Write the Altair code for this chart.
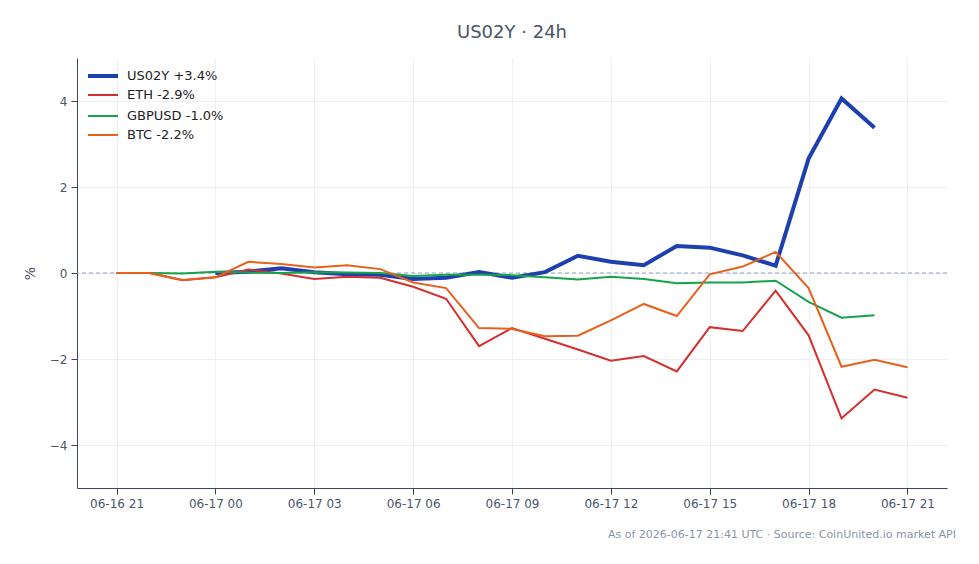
import altair as alt
import pandas as pd

# Hourly timeline (UTC)
hours = pd.date_range("2026-06-16 21:00", "2026-06-17 21:00", freq="h", tz="UTC")

# % change vs. start of window; None where a series has no print
us02y = [None, None, None,
         0.0, 0.03, 0.11, 0.02, -0.03, -0.04, -0.14, -0.11, 0.02, -0.11, 0.02,
         0.40, 0.26, 0.18, 0.63, 0.59, 0.41, 0.17, 2.66, 4.06, 3.38, None]
eth = [0.0, 0.0, -0.17, -0.10, 0.08, -0.01, -0.14, -0.09, -0.11, -0.32, -0.60,
       -1.70, -1.28, -1.53, -1.78, -2.04, -1.93, -2.29, -1.26, -1.35, -0.41,
       -1.45, -3.38, -2.71, -2.90]
gbpusd = [0.0, 0.0, -0.01, 0.03, 0.01, 0.0, 0.02, 0.01, 0.0, -0.07, -0.04,
          -0.04, -0.05, -0.10, -0.15, -0.09, -0.14, -0.24, -0.22, -0.22, -0.18,
          -0.67, -1.04, -0.98, None]
btc = [0.0, 0.0, -0.16, -0.10, 0.26, 0.21, 0.13, 0.18, 0.09, -0.22, -0.35,
       -1.28, -1.30, -1.47, -1.46, -1.10, -0.72, -1.00, -0.03, 0.15, 0.49,
       -0.35, -2.18, -2.02, -2.19]

names = ["US02Y", "ETH", "GBPUSD", "BTC"]
series = [us02y, eth, gbpusd, btc]
colors = ["#1e40af", "#d62f2f", "#16a34a", "#e8601c"]
widths = [4, 2, 2, 2]


def ms(s):
    return int(pd.Timestamp(s, tz="UTC").value // 10**6)


tick_vals = [ms(t) for t in pd.date_range("2026-06-16 21:00", "2026-06-17 21:00", freq="3h")]
x_domain = [ms("2026-06-16 19:48"), ms("2026-06-17 22:12")]

font = "DejaVu Sans"
text_col = "#4a5568"
axis_col = "#3b4656"
grid_col = "#eceff3"

x = alt.X(
    "t:T",
    scale=alt.Scale(type="utc", domain=x_domain, nice=False),
    axis=alt.Axis(values=tick_vals, labelExpr="utcFormat(datum.value, '%m-%d %H')", title=None,
                  grid=True, gridColor=grid_col, domainColor=axis_col, tickColor=axis_col,
                  tickSize=6, labelPadding=4, labelFontSize=12, labelColor=text_col,
                  labelFont=font),
)
y_scale = alt.Scale(domain=[-5, 5], nice=False, zero=False)
y = alt.Y("pct:Q", scale=y_scale,
          axis=alt.Axis(values=[-4, -2, 0, 2, 4], title="%", titleFontSize=14,
                        titleFontWeight="normal", titleColor=text_col, titleFont=font,
                        titlePadding=12, grid=True, gridColor=grid_col,
                        domainColor=axis_col, tickColor=axis_col, tickSize=6,
                        labelPadding=4, labelFontSize=12, labelColor=text_col,
                        labelFont=font))

# one line layer per series, each carrying its own legend entry
legend_y = [1, 21, 42, 61]
line_layers = []
for i, (name, vals) in enumerate(zip(names, series)):
    last = [v for v in vals if v is not None][-1]
    label = f"{name} {last:+.1f}%"
    df = pd.DataFrame([{"t": int(t.value // 10**6), "pct": v, "series": label}
                       for t, v in zip(hours, vals) if v is not None])
    thick = widths[i] > 2
    leg = alt.Legend(title=None, orient="none", legendX=9 if thick else 10,
                     legendY=legend_y[i], symbolType="stroke", symbolSize=900,
                     symbolStrokeWidth=widths[i], labelFontSize=13, labelFont=font,
                     labelColor="#222222", labelOffset=7 if thick else 8)
    line_layers.append(
        alt.Chart(df).mark_line(strokeWidth=widths[i], strokeJoin="miter").encode(
            x=x, y=y,
            color=alt.Color("series:N", scale=alt.Scale(domain=[label], range=[colors[i]]),
                            legend=leg),
            order=alt.Order("t:Q"),
        )
    )

zero = pd.DataFrame({"pct": [0.0]})
zero_rule = alt.Chart(zero).mark_rule(color="#8fa0bf", strokeDash=[4, 3], strokeWidth=1).encode(
    y=alt.Y("pct:Q", scale=y_scale)
)

footer = alt.Chart(pd.DataFrame({"txt": ["As of 2026-06-17 21:41 UTC · Source: CoinUnited.io market API"]})).mark_text(
    align="right", baseline="middle", fontSize=11, font=font, color="#8a94a6"
).encode(x=alt.value(879), y=alt.value(477), text="txt:N")

chart = alt.layer(zero_rule, *line_layers, footer).resolve_scale(
    color="independent"
).properties(
    width=870, height=430,
    title=alt.TitleParams("US02Y · 24h", fontSize=18, font=font, fontWeight="normal",
                          color=text_col, anchor="middle", offset=16),
    padding={"left": 77, "top": 58, "right": 32, "bottom": 76},
    autosize=alt.AutoSizeParams(type="none"),
    background="white",
).configure_view(stroke=None)

chart.save("out.html", embed_options={"renderer": "svg", "actions": False})
